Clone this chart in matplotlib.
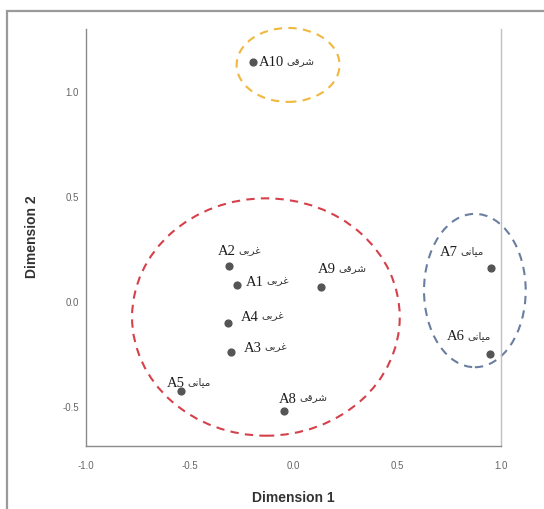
import matplotlib
matplotlib.use("Agg")
import matplotlib.pyplot as plt
from matplotlib.patches import Ellipse, Rectangle

# ---- data -------------------------------------------------------------
ids = ["A1", "A2", "A3", "A4", "A5", "A6", "A7", "A8", "A9", "A10"]
regions = ["غربی", "غربی", "غربی", "غربی", "میانی", "میانی", "میانی", "شرقی", "شرقی", "شرقی"]
dim1 = [-0.273, -0.312, -0.302, -0.317, -0.543, 0.946, 0.951, -0.047, 0.132, -0.196]
dim2 = [0.076, 0.167, -0.243, -0.105, -0.429, -0.252, 0.157, -0.524, 0.067, 1.138]
xticks = [-1.0, -0.5, 0.0, 0.5, 1.0]
yticks = [-0.5, 0.0, 0.5, 1.0]

# ---- styling / annotation layout --------------------------------------
label_offsets = [(9, 4), (-11, 15), (13, 5), (13, 7), (-14, 9),
                 (-43, 18), (-51, 17), (-5, 13), (-3, 18), (6, 0)]
group_ellipses = [
    dict(center=(-0.133, -0.076), w=1.29, h=1.13, color="#d6404a"),
    dict(center=(-0.026, 1.124), w=0.496, h=0.352, color="#f0b840"),
    dict(center=(0.874, 0.05), w=0.49, h=0.73, color="#6a7fa0"),
]

# Arabic presentation forms so the Persian words display joined and right-to-left
_forms = {
    "غربی": "\uFBFD\uFE91\uFEAE\uFECF",
    "شرقی": "\uFBFD\uFED7\uFEAE\uFEB7",
    "میانی": "\uFBFD\uFEE7\uFE8E\uFBFF\uFEE3",
}

fig = plt.figure(figsize=(5.44, 5.10), dpi=100)
W, H = 544, 510
ax = fig.add_axes([86 / W, 1 - 447 / H, 415 / W, 417 / H])

ax.set_xlim(-1.0, 1.0)
ax.set_ylim(-0.69, 1.295)

# outer frame
fig.patches.append(Rectangle((7 / W, -0.05), 1.1, 1 - 12 / H + 0.05,
                             transform=fig.transFigure, fill=False,
                             edgecolor="#9a9a9a", linewidth=1.6))

for e in group_ellipses:
    ax.add_patch(Ellipse(e["center"], e["w"], e["h"], fill=False,
                         edgecolor=e["color"], linewidth=1.5,
                         linestyle=(0, (4, 3)), clip_on=False))

ax.scatter(dim1, dim2, s=24, color="#555555", zorder=3)

for x, y, name, reg, off in zip(dim1, dim2, ids, regions, label_offsets):
    t = ax.annotate(name, xy=(x, y), xytext=off, textcoords="offset pixels",
                    ha="left", va="center", fontsize=10.5,
                    family=["Liberation Serif", "DejaVu Sans"], color="#1e1e1e")
    ax.annotate(_forms[reg], xy=(1, 0.55), xycoords=t, xytext=(2, 0),
                textcoords="offset points", ha="left", va="center",
                fontsize=7.5, family=["DejaVu Sans"], color="#333333")

ax.set_xticks(xticks)
ax.set_xticklabels([f"{v:.1f}" for v in xticks])
ax.set_yticks(yticks)
ax.set_yticklabels([f"{v:.1f}" for v in yticks])
ax.tick_params(axis="both", length=0, labelsize=7, labelcolor="#666666")
ax.tick_params(axis="x", pad=10)
ax.tick_params(axis="y", pad=5)
for lab in ax.get_xticklabels() + ax.get_yticklabels():
    lab.set_family(["Liberation Sans"])

ax.spines["top"].set_visible(False)
ax.spines["left"].set_color("#8a8a8a")
ax.spines["bottom"].set_color("#8a8a8a")
ax.spines["right"].set_color("#c0c0c0")
for s in ("left", "bottom", "right"):
    ax.spines[s].set_linewidth(1.0)

ax.set_xlabel("Dimension 1", fontsize=10, fontweight="bold",
              family=["Liberation Sans"], color="#333333")
ax.set_ylabel("Dimension 2", fontsize=10, fontweight="bold",
              family=["Liberation Sans"], color="#333333")
ax.xaxis.set_label_coords(0.5, -0.105)
ax.yaxis.set_label_coords(-0.113, 0.504)

fig.savefig("out.png", dpi=100)
